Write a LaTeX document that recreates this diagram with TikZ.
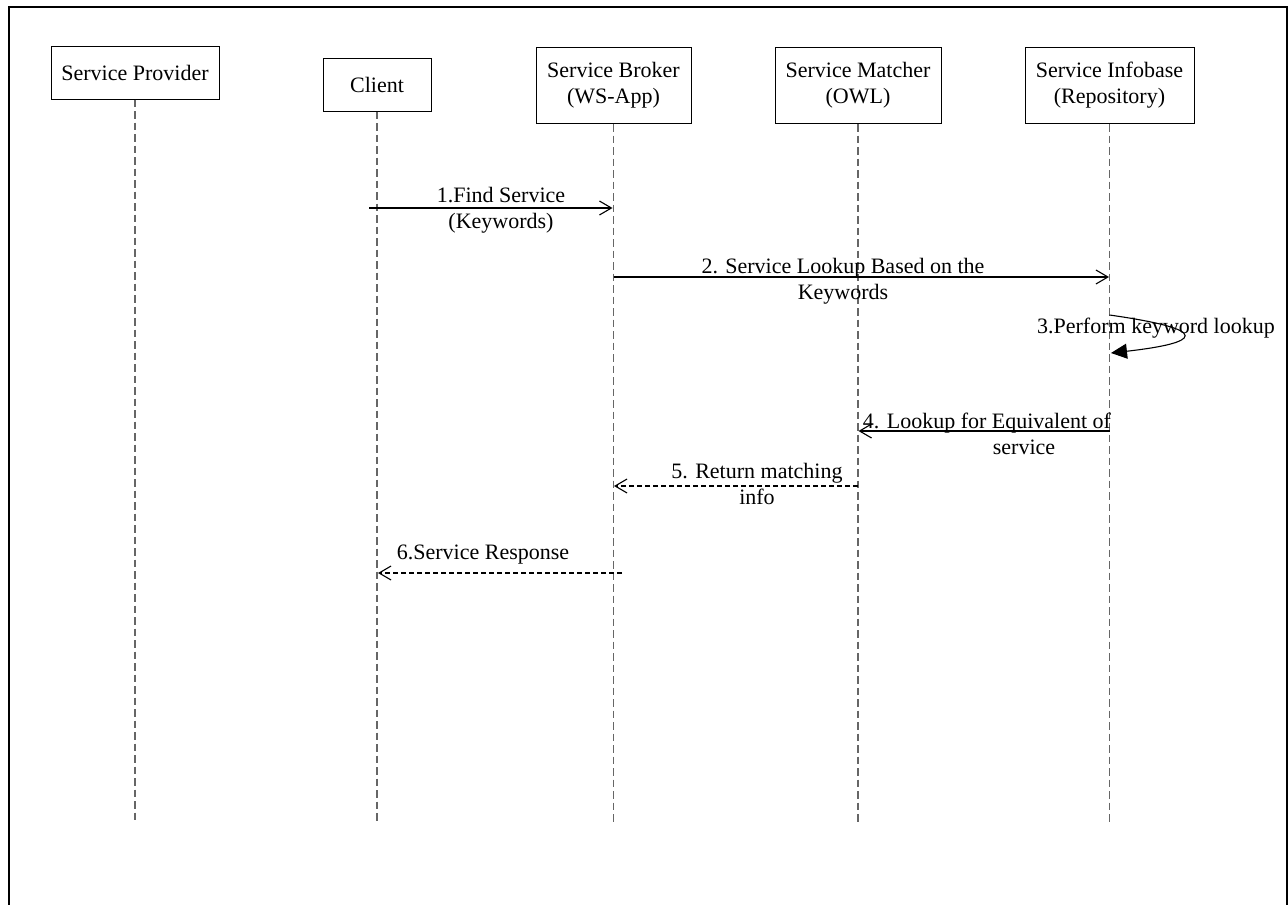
\documentclass[tikz,border=0pt]{standalone}
\usepackage{fontspec}
\setmainfont{Liberation Serif}
\usetikzlibrary{arrows.meta}
\begin{document}
\begin{tikzpicture}[x=1pt,y=-1pt,
  every node/.style={font=\fontsize{22}{26}\selectfont},
  actor/.style={draw=black, line width=1pt, align=center, inner sep=0pt},
  lifeline/.style={draw=black!60, line width=1.5pt, dash pattern=on 7.5pt off 4pt},
  msg/.style={draw=black, line width=1.1pt, -{Straight Barb[length=12pt,width=14pt]}},
  reply/.style={msg, dash pattern=on 5pt off 3pt},
  selfmsg/.style={draw=black, line width=1.1pt, -{Triangle[length=16pt,width=15pt]}},
  lbl/.style={align=center, inner sep=0pt}]

\useasboundingbox (0,0) rectangle (1288,905);
\clip (0,0) rectangle (1288,905);

% outer frame (open at the bottom)
\draw[line width=2pt] (9,930) -- (9,7) -- (1287,7) -- (1287,930);

% participants
\node[actor, minimum width=168pt, minimum height=53pt] (prov) at (135,72.5) {Service Provider};
\node[actor, minimum width=108pt, minimum height=53pt] (client) at (377,84.5) {Client};
\node[actor, minimum width=155pt, minimum height=76pt] (broker) at (613.5,85.5) {Service Broker\\(WS-App)};
\node[actor, minimum width=166pt, minimum height=76pt] (matcher) at (858,85.5) {Service Matcher\\(OWL)};
\node[actor, minimum width=169pt, minimum height=76pt] (infobase) at (1109.5,85.5) {Service Infobase\\(Repository)};

% lifelines
\coordinate (provE) at (135,823);
\coordinate (clientE) at (377,823);
\coordinate (brokerE) at (613.5,823);
\coordinate (matcherE) at (858,823);
\coordinate (infobaseE) at (1109.5,823);
\draw[lifeline] (prov.south) -- (provE);
\draw[lifeline] (client.south) -- (clientE);
\draw[lifeline] (broker.south) -- (brokerE);
\draw[lifeline] (matcher.south) -- (matcherE);
\draw[lifeline] (infobase.south) -- (infobaseE);

% message end points on the lifelines
\coordinate (m1a) at (369,208);    \coordinate (m1b) at (612.5,208);
\coordinate (m2a) at (613.5,277);  \coordinate (m2b) at (1109,277);
\coordinate (m3a) at (1109.5,315); \coordinate (m3b) at (1111,353);
\coordinate (m4a) at (1109.5,431); \coordinate (m4b) at (858.5,431);
\coordinate (m5a) at (858,486);    \coordinate (m5b) at (614,486);
\coordinate (m6a) at (622,573);    \coordinate (m6b) at (378,573);

% messages
\draw[msg] (m1a) -- (m1b);
\draw[msg] (m2a) -- (m2b);
\draw[selfmsg] (m3a) .. controls (1215,330) and (1200,343) .. (m3b);
\draw[msg] (m4a) -- (m4b);
\draw[reply] (m5a) -- (m5b);
\draw[reply] (m6a) -- (m6b);

% message labels
\node[lbl] (l1) at (501,210) {1.Find Service\\(Keywords)};
\node[lbl] (l2) at (843,281) {2. Service Lookup Based on the\\Keywords};
\node[lbl, anchor=base] (l3) at (1156,333) {3.Perform keyword lookup};
\node[lbl] (l4) at (987,434) {4. Lookup for Equivalent of\\\hspace*{74pt}service};
\node[lbl] (l5) at (757,484) {5. Return matching\\info};
\node[lbl, anchor=base] (l6) at (483,559) {6.Service Response};

\end{tikzpicture}
\end{document}
